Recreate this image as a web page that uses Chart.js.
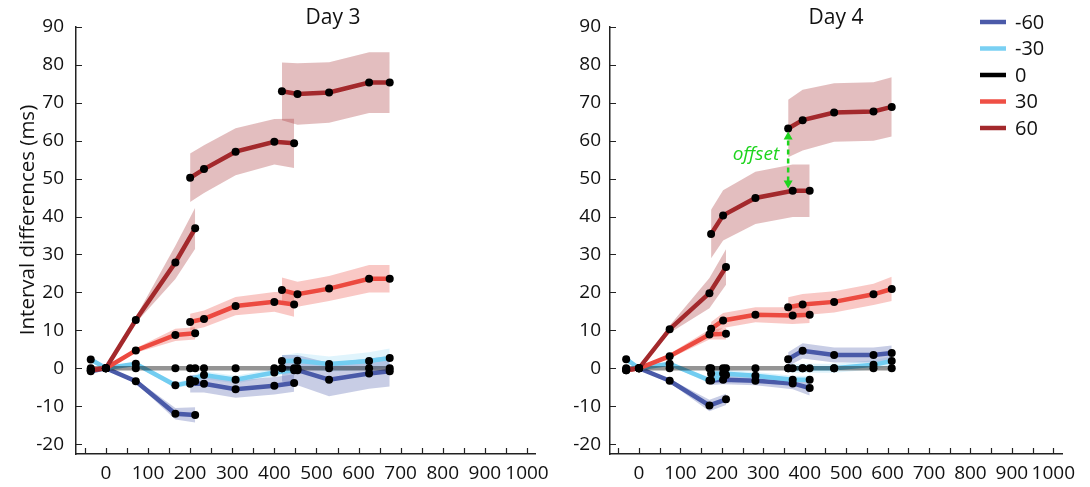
<!DOCTYPE html>
<html>
<head>
<meta charset="utf-8">
<script src="https://cdn.jsdelivr.net/npm/chart.js@4.4.1/dist/chart.umd.min.js"></script>
<style>
    html, body { margin: 0; padding: 0; background: #fff; }
    #wrap { position: relative; width: 1090px; height: 487px; overflow: hidden; }
    #day3 { position: absolute; left: 0; top: 0; }
    #day4 { position: absolute; left: 545px; top: 0; }
</style>
</head>
<body>
<div id="wrap">
    <canvas id="day3" width="666" height="487" style="width:666px;height:487px"></canvas>
    <canvas id="day4" width="545" height="487" style="width:545px;height:487px"></canvas>
</div>
<script>
// shift levels (legend order)
const levels = ["-60", "-30", "0", "30", "60"];
const lineColors = ["#4a5aa8", "#72cdf1", "rgba(0,0,0,0.42)", "#ec4a40", "#a3292c"];
const bandColors = ["rgba(74,90,168,0.3)", "rgba(114,205,241,0.22)", "rgba(0,0,0,0)", "rgba(236,74,64,0.3)", "rgba(163,41,44,0.3)"];
const legendColors = ["#4b5aa9", "#7ad0f3", "#000000", "#ef4f45", "#a3292c"];

// axis ticks
const xTicks = [-50, 0, 50, 100, 150, 200, 250, 300, 350, 400, 450, 500, 550, 600, 650, 700, 750, 800, 850, 900, 950, 1000];
const yTicks = [-20, -10, 0, 10, 20, 30, 40, 50, 60, 70, 80, 90];

// day 3: x positions of the three segments
const day3X = [[-36, 0, 71, 165, 212], [200, 233, 308, 400, 447], [418, 455, 530, 625, 674]];
const day3Neg60 = [[-0.8, 0, -3.4, -12.0, -12.3], [-4.1, -4.1, -5.5, -4.6, -3.9], [0, -0.5, -3.0, -1.4, -0.8]];
const day3Neg60Err = [[0, 0, 0.5, 1.5, 2.0], [2.3, 2.3, 2.3, 2.3, 2.3], [3.5, 4.0, 4.4, 4.0, 4.0]];
const day3Neg30 = [[2.3, 0, 1.2, -4.5, -3.4], [-3.0, -1.8, -3.0, -1.1, -0.5], [1.9, 2.0, 1.1, 1.9, 2.7]];
const day3Neg30Err = [[0, 0, 0.5, 0.8, 0.8], [1.0, 1.0, 1.0, 1.0, 1.0], [1.5, 2.0, 2.0, 2.3, 2.5]];
const day3Zero = [[0, 0, 0, 0, 0], [0, 0, 0, 0, 0], [0, 0, 0, 0, 0]];
const day3Pos30 = [[-0.4, 0, 4.7, 8.8, 9.2], [12.2, 13.0, 16.4, 17.5, 16.8], [20.6, 19.5, 21.0, 23.6, 23.6]];
const day3Pos30Err = [[0, 0, 0.6, 1.6, 1.6], [2.2, 2.2, 2.4, 2.6, 3.2], [3.3, 3.3, 3.3, 3.6, 3.6]];
const day3Pos60 = [[-0.5, 0, 12.7, 27.9, 36.9], [50.2, 52.5, 57.1, 59.7, 59.3], [73.0, 72.3, 72.7, 75.3, 75.3]];
const day3Pos60Err = [[0, 0, 0.8, 4.4, 5.4], [6.4, 6.3, 6.2, 6.0, 6.5], [7.6, 8.1, 8.0, 8.0, 8.0]];

// day 4
const day4X = [[-31, 0, 74, 170, 210], [174, 203, 281, 371, 412], [360, 395, 471, 566, 610]];
const day4Neg60 = [[-0.3, 0, -3.3, -9.8, -8.2], [-3.2, -3.0, -3.3, -4.0, -5.2], [2.4, 4.6, 3.5, 3.5, 4.0]];
const day4Neg60Err = [[0, 0, 0.5, 1.5, 1.5], [1.2, 1.2, 1.2, 1.5, 2.0], [1.8, 2.0, 2.0, 2.0, 2.0]];
const day4Neg30 = [[2.4, 0, 1.2, -3.2, -1.8], [-1.4, -1.4, -2.0, -3.0, -3.0], [0, 0, 0, 0.9, 1.9]];
const day4Neg30Err = [[0, 0, 0.4, 0.8, 0.8], [1.0, 1.0, 1.0, 1.0, 1.0], [1.2, 1.2, 1.2, 1.2, 1.3]];
const day4Zero = [[0, 0, 0, 0, 0], [0, 0, 0, 0, 0], [0, 0, 0, 0, 0]];
const day4Pos30 = [[-0.5, 0, 3.2, 8.9, 9.1], [10.4, 12.6, 14.1, 13.9, 14.1], [16.1, 16.8, 17.5, 19.5, 20.9]];
const day4Pos30Err = [[0, 0, 0.6, 1.3, 1.5], [1.8, 2.0, 2.0, 2.2, 2.2], [2.6, 2.8, 2.8, 2.8, 3.2]];
const day4Pos60 = [[-0.5, 0, 10.3, 19.8, 26.7], [35.4, 40.3, 44.9, 46.8, 46.8], [63.2, 65.4, 67.4, 67.7, 68.9]];
const day4Pos60Err = [[0, 0, 1.0, 4.0, 4.7], [6.4, 6.6, 6.9, 6.9, 6.9], [7.6, 8.0, 7.7, 7.7, 7.8]];

// offset arrow on day 4 (x, from, to)
const offsetX = 360;
const offsetFrom = 47.4;
const offsetTo = 62.4;

const FONT = "'Open Sans', 'DejaVu Sans', sans-serif";


///////////////////////////////////////////////////////////////////////////////
// build line, band and dot datasets for one day
function buildDatasets(xs, series, errs)
{
    let sets = [];
    series.forEach((segs, i) =>
    {
        segs.forEach((ys, s) =>
        {
            let x = xs[s];
            let err = errs[i];
            if(err)
            {
                // upper edge fills down to the lower edge
                sets.push({
                    data: ys.map((y, k) => ({x: x[k], y: y + err[s][k]})),
                    fill: "+1", backgroundColor: bandColors[i],
                    borderWidth: 0, borderColor: "transparent", pointRadius: 0, order: 20
                });
                sets.push({
                    data: ys.map((y, k) => ({x: x[k], y: y - err[s][k]})),
                    fill: false, borderWidth: 0, borderColor: "transparent", pointRadius: 0, order: 20
                });
            }
            sets.push({
                data: ys.map((y, k) => ({x: x[k], y: y})),
                borderColor: lineColors[i], borderWidth: 4.5, fill: false,
                pointRadius: 0, lineTension: 0, order: 10 - i
            });
        });
    });

    // black dots on top
    let dots = [];
    series.forEach(segs => segs.forEach((ys, s) => ys.forEach((y, k) => dots.push({x: xs[s][k], y: y}))));
    sets.push({
        data: dots, showLine: false, pointRadius: 4, pointBackgroundColor: "#000",
        pointBorderWidth: 0, pointBorderColor: "transparent", order: 0
    });
    return sets;
}


///////////////////////////////////////////////////////////////////////////////
// inner tick marks, y label, legend and offset arrow
const decor =
{
    id: "decor",
    afterDraw(chart, args, opts)
    {
        let ctx = chart.ctx;
        let xs = chart.scales.x, ys = chart.scales.y;
        let area = chart.chartArea;

        ctx.save();
        ctx.strokeStyle = "#222";
        ctx.lineWidth = 1.2;
        ctx.beginPath();
        xTicks.forEach(v =>
        {
            let px = Math.round(xs.getPixelForValue(v)) + 0.5;
            ctx.moveTo(px, area.bottom);
            ctx.lineTo(px, area.bottom - 6);
        });
        yTicks.forEach(v =>
        {
            let py = Math.round(ys.getPixelForValue(v)) + 0.5;
            ctx.moveTo(area.left, py);
            ctx.lineTo(area.left + 6, py);
        });
        ctx.stroke();

        // y axis title
        if(opts.yLabel)
        {
            ctx.save();
            ctx.translate(28, 220);
            ctx.rotate(-Math.PI / 2);
            ctx.fillStyle = "#111";
            ctx.font = "20.5px " + FONT;
            ctx.textAlign = "center";
            ctx.textBaseline = "middle";
            ctx.fillText(opts.yLabel, 0, 0);
            ctx.restore();
        }

        // legend
        if(opts.legend)
        {
            ctx.font = "20px " + FONT;
            ctx.textBaseline = "middle";
            ctx.textAlign = "left";
            levels.forEach((name, i) =>
            {
                let y = 22 + i * 26.5;
                ctx.strokeStyle = legendColors[i];
                ctx.lineWidth = 4.5;
                ctx.beginPath();
                ctx.moveTo(435, y);
                ctx.lineTo(461, y);
                ctx.stroke();
                ctx.fillStyle = "#111";
                ctx.fillText(name, 470, y + 1);
            });
        }

        // offset arrow
        if(opts.offset)
        {
            let px = xs.getPixelForValue(offsetX);
            let y0 = ys.getPixelForValue(offsetFrom);
            let y1 = ys.getPixelForValue(offsetTo);
            let green = "#1ed41e";
            ctx.strokeStyle = green;
            ctx.fillStyle = green;
            ctx.lineWidth = 2.5;
            ctx.setLineDash([5, 4]);
            ctx.beginPath();
            ctx.moveTo(px, y0 - 7);
            ctx.lineTo(px, y1 + 7);
            ctx.stroke();
            ctx.setLineDash([]);
            ctx.beginPath();
            ctx.moveTo(px, y1); ctx.lineTo(px - 4.5, y1 + 8); ctx.lineTo(px + 4.5, y1 + 8); ctx.closePath();
            ctx.moveTo(px, y0); ctx.lineTo(px - 4.5, y0 - 8); ctx.lineTo(px + 4.5, y0 - 8); ctx.closePath();
            ctx.fill();

            ctx.font = "italic 19px " + FONT;
            ctx.textAlign = "right";
            ctx.textBaseline = "middle";
            ctx.fillText("offset", px - 9, ys.getPixelForValue(56.2));
        }
        ctx.restore();
    }
};


///////////////////////////////////////////////////////////////////////////////
function drawChart(id, title, xs, series, errs, axisWidth, labelGap, padRight, xMin, xMax, extra)
{
    let context = document.getElementById(id).getContext("2d");
    let tickFont = {family: FONT, size: 19};

    let scales =
    {
        x:
        {
            type: "linear", min: xMin, max: xMax,
            grid: { display: false, drawTicks: false },
            border: { display: true, color: "#222", width: 1.5 },
            ticks:
            {
                font: tickFont, color: "#111", padding: 8,
                autoSkip: false, maxRotation: 0,
                callback: v => (v >= 0 && v % 100 === 0) ? String(v) : ""
            },
            afterBuildTicks: axis => { axis.ticks = xTicks.map(v => ({value: v})); },
            afterFit: axis => { axis.height = 33; }
        },
        y:
        {
            type: "linear", min: -22.6, max: 90,
            grid: { display: false, drawTicks: false },
            border: { display: true, color: "#222", width: 1.5 },
            ticks: { font: tickFont, color: "#111", padding: labelGap, autoSkip: false },
            afterBuildTicks: axis => { axis.ticks = yTicks.map(v => ({value: v})); },
            afterFit: axis => { axis.width = axisWidth; }
        }
    };

    // empty right-hand axis keeps the title centred over the full canvas
    if(extra.rightGap)
    {
        scales.gap =
        {
            type: "linear", position: "right", display: true,
            grid: { display: false, drawTicks: false },
            border: { display: false },
            ticks: { display: false },
            afterFit: axis => { axis.width = extra.rightGap; }
        };
    }

    return new Chart(context,
    {
        type: "line",
        data: { datasets: buildDatasets(xs, series, errs) },
        options:
        {
            responsive: false,
            animation: false,
            events: [],
            layout: { padding: { left: 0, right: padRight, top: 0, bottom: 0 } },
            scales: scales,
            plugins:
            {
                legend: { display: false },
                tooltip: { enabled: false },
                title:
                {
                    display: true,
                    text: title,
                    fullSize: extra.fullTitle,
                    color: "#111",
                    font: { family: FONT, size: 21, weight: "normal", lineHeight: 0.85 },
                    padding: { top: 9, bottom: 0 }
                },
                decor: extra
            }
        },
        plugins: [decor]
    });
}


///////////////////////////////////////////////////////////////////////////////
// main entry point
document.fonts.load("19px 'Open Sans'").finally(() =>
{
    drawChart("day3", "Day 3", day3X,
        [day3Neg60, day3Neg30, day3Zero, day3Pos30, day3Pos60],
        [day3Neg60Err, day3Neg30Err, null, day3Pos30Err, day3Pos60Err],
        76, 12, 0, -71, 1019,
        { fullTitle: true, rightGap: 131, yLabel: "Interval differences (ms)" });

    drawChart("day4", "Day 4", day4X,
        [day4Neg60, day4Neg30, day4Zero, day4Pos30, day4Pos60],
        [day4Neg60Err, day4Neg30Err, null, day4Pos30Err, day4Pos60Err],
        65, 9, 28, -70, 1021,
        { fullTitle: false, legend: true, offset: true });
});
</script>
</body>
</html>
